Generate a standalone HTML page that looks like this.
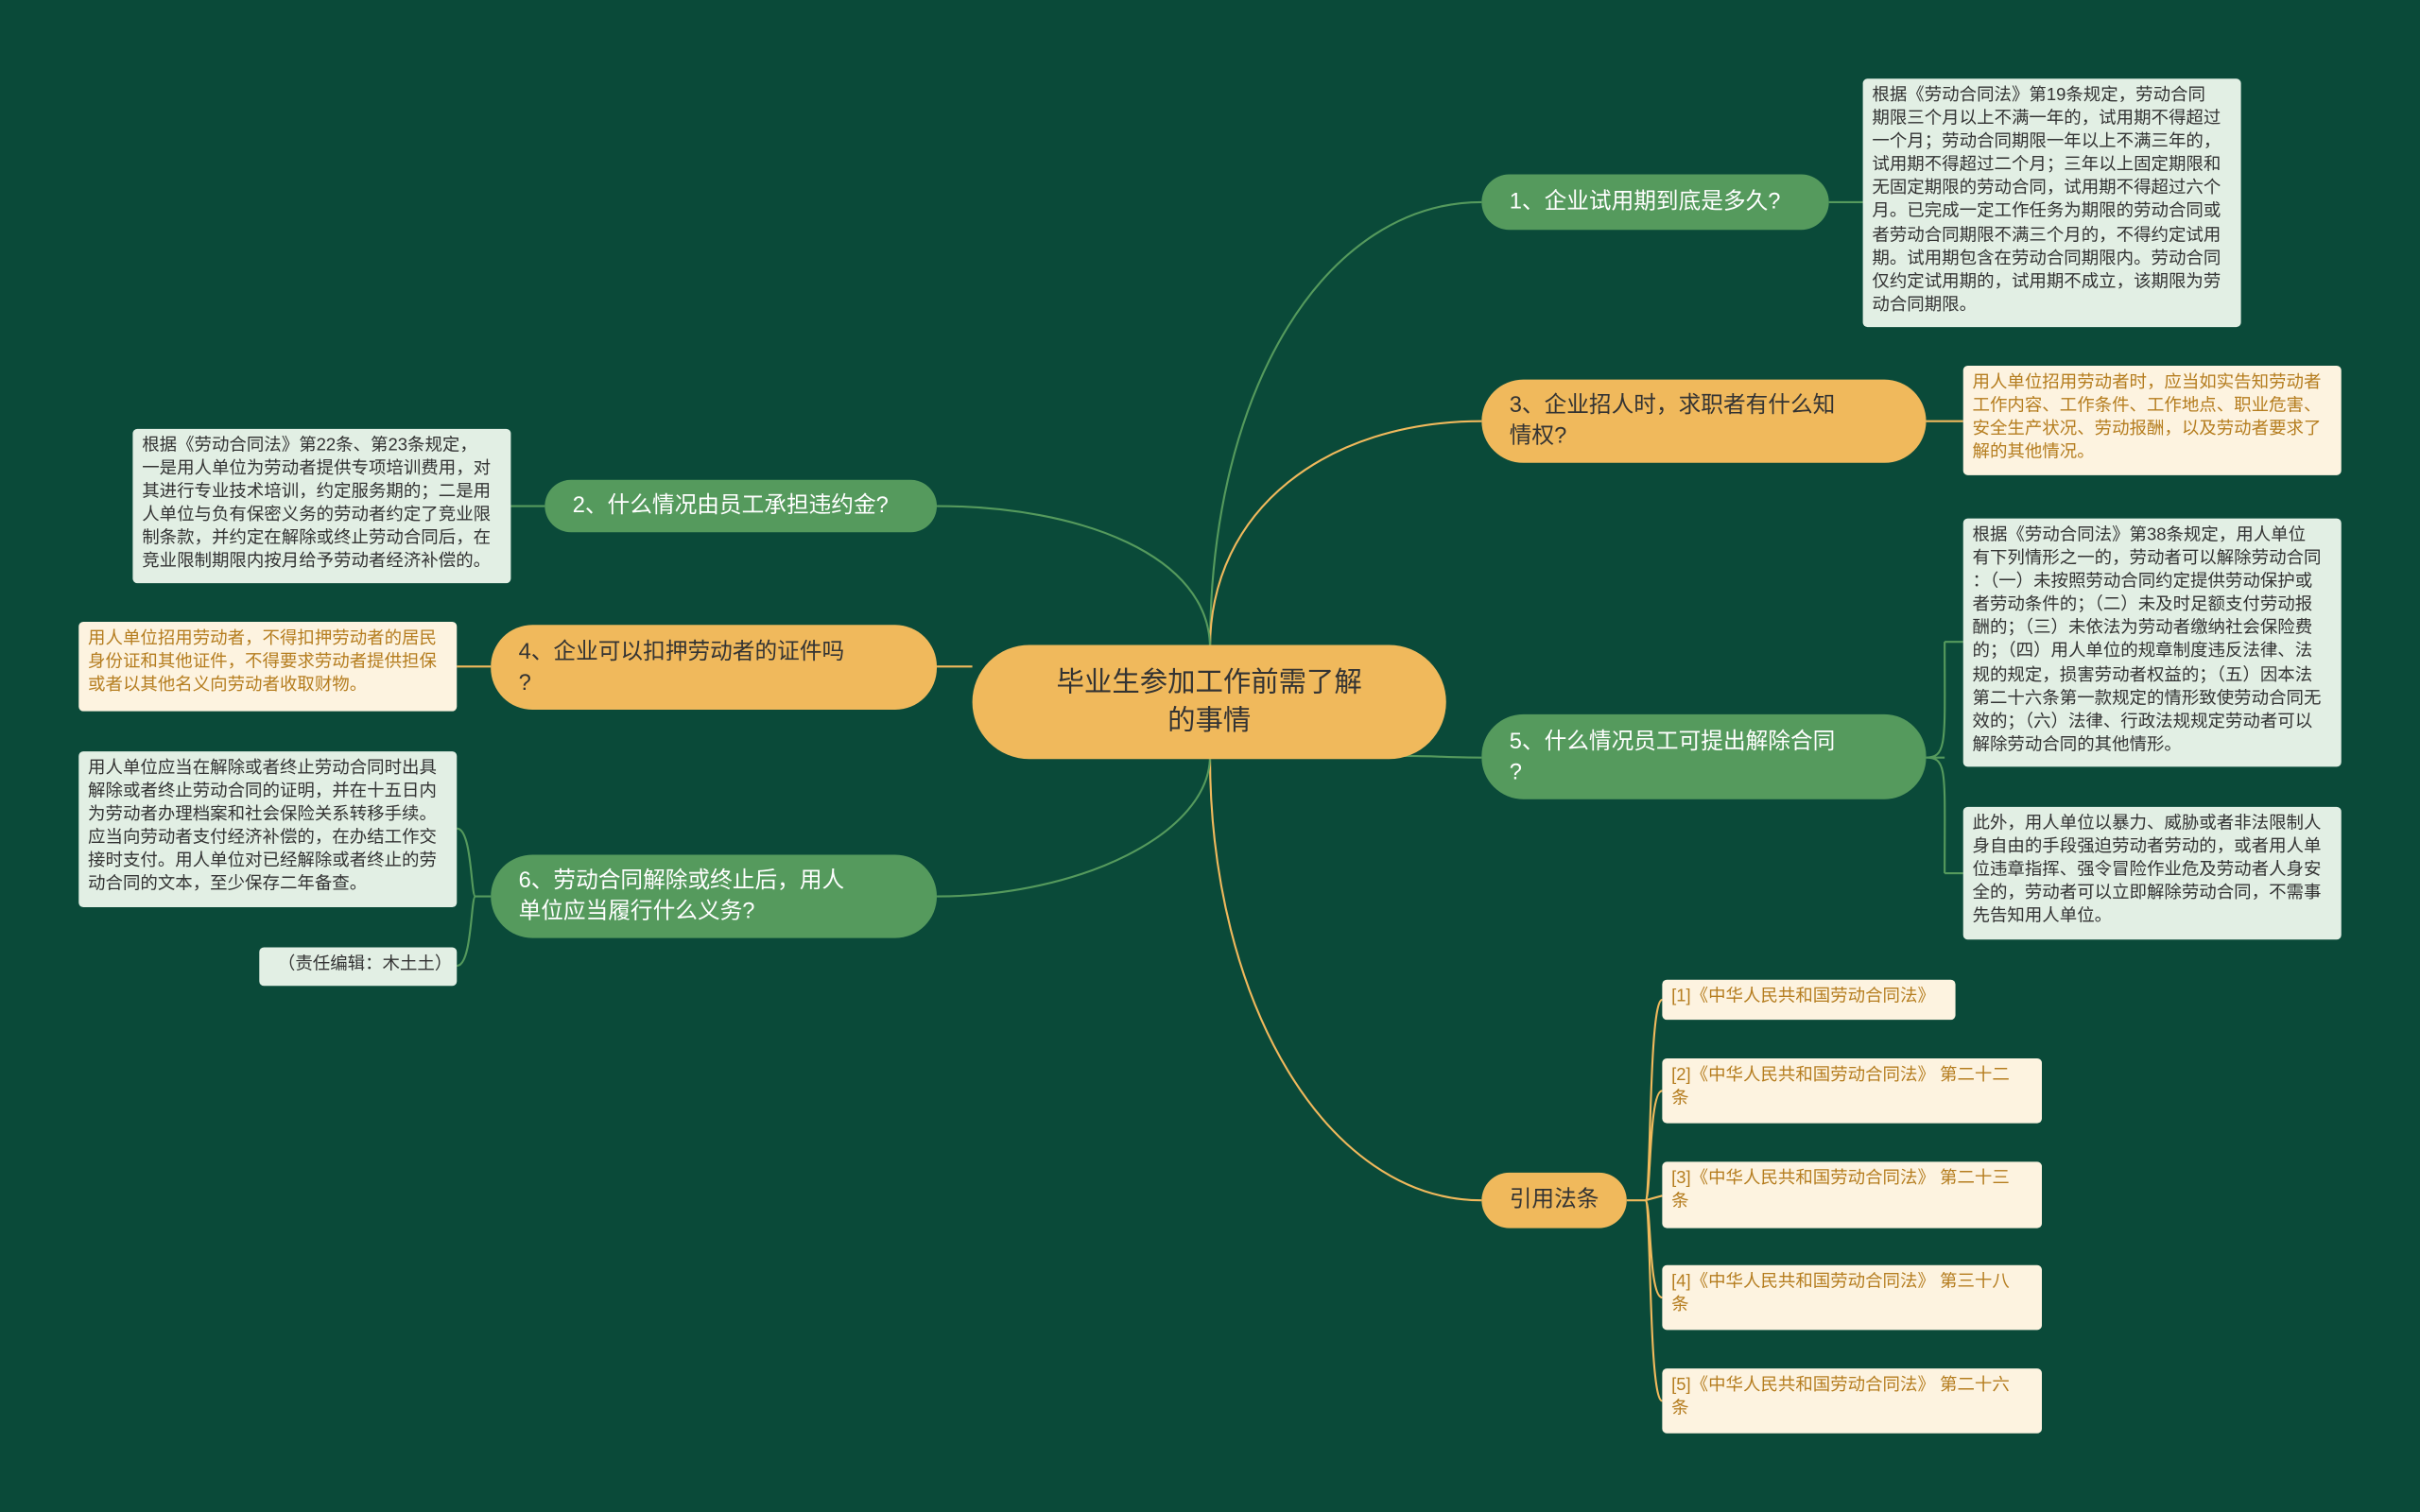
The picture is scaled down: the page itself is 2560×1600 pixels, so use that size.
<!DOCTYPE html>
<html><head><meta charset="utf-8"><style>
html,body{margin:0;padding:0;background:#0a4a39;overflow:hidden}
#s{position:absolute;left:0;top:0;width:1568px;height:980px;transform:scale(1.63265);transform-origin:0 0;font-family:"Liberation Sans","Noto Sans CJK SC",sans-serif}
.n{position:absolute;box-sizing:border-box;display:flex;align-items:center;border-radius:20px;padding:0 18px;font-size:14.5px;line-height:20px}
.g{background:#559a5d;color:#fff}
.o{background:#f0b95c;color:#333}
.l{position:absolute;box-sizing:border-box;border-radius:3px;padding:4px 6px;font-size:11.3px;line-height:15.1px;white-space:nowrap}
.lg{background:#e2efe4;color:#333}
.lo{background:#fdf3e0;color:#b57d1f}
</style></head><body><div id="s">
<svg width="1568" height="980" style="position:absolute;left:0;top:0" fill="none" stroke-width="1.3">
<path d="M784 420 C784 250 860 131 960 131" stroke="#559a5d"/>
<path d="M784 420 C784 330 860 273 960 273" stroke="#f0b95c"/>
<path d="M910 490 C930 490 940 491 960 491" stroke="#559a5d"/>
<path d="M784 490 C784 650 860 778 960 778" stroke="#f0b95c"/>
<path d="M784 420 C784 360 700 328 607 328" stroke="#559a5d"/>
<path d="M630 432 L607 432" stroke="#f0b95c"/>
<path d="M784 490 C784 540 700 581 607 581" stroke="#559a5d"/>
<path d="M1185 131 L1207 131" stroke="#559a5d"/>
<path d="M1248 273 L1272 273" stroke="#f0b95c"/>
<path d="M1248 491 L1260 491 M1260 416 C1260 480 1262 491 1248 491 M1260 566 C1260 500 1262 491 1248 491 M1260 416 L1272 416 M1260 566 L1272 566" stroke="#559a5d"/>
<path d="M353 328 L331 328" stroke="#559a5d"/>
<path d="M318 432 L296 432" stroke="#f0b95c"/>
<path d="M318 581 L308 581 C305 581 306 537 296 537 M308 581 C305 581 306 626 296 626" stroke="#559a5d"/>
<path d="M1054 778 L1066 778 C1070 778 1068 648 1077 648 M1066 778 C1070 778 1068 707 1077 707 M1066 778 L1077 775 M1066 778 C1070 778 1068 841 1077 841 M1066 778 C1070 778 1068 908 1077 908" stroke="#f0b95c"/>
</svg>
<div class="n o" style="left:630px;top:418px;width:307px;height:74px;border-radius:37px;justify-content:center;text-align:center;font-size:18px;line-height:25px">毕业生参加工作前需了解<br>的事情</div>
<div class="n g" style="left:960px;top:113px;width:225px;height:36px">1、企业试用期到底是多久?</div>
<div class="n o" style="left:960px;top:246px;width:288px;height:54px;border-radius:27px">3、企业招人时，求职者有什么知<br>情权?</div>
<div class="n g" style="left:960px;top:463px;width:288px;height:55px;border-radius:27px">5、什么情况员工可提出解除合同<br>?</div>
<div class="n o" style="left:960px;top:760px;width:94px;height:36px">引用法条</div>
<div class="n g" style="left:353px;top:311px;width:254px;height:34px">2、什么情况由员工承担违约金?</div>
<div class="n o" style="left:318px;top:405px;width:289px;height:55px;border-radius:27px">4、企业可以扣押劳动者的证件吗<br>?</div>
<div class="n g" style="left:318px;top:554px;width:289px;height:54px;border-radius:27px">6、劳动合同解除或终止后，用人<br>单位应当履行什么义务?</div>
<div class="l lg" style="left:1207px;top:51px;width:245px;height:161px">根据《劳动合同法》第19条规定，劳动合同<br>期限三个月以上不满一年的，试用期不得超过<br>一个月；劳动合同期限一年以上不满三年的，<br>试用期不得超过二个月；三年以上固定期限和<br>无固定期限的劳动合同，试用期不得超过六个<br>月。已完成一定工作任务为期限的劳动合同或<br>者劳动合同期限不满三个月的，不得约定试用<br>期。试用期包含在劳动合同期限内。劳动合同<br>仅约定试用期的，试用期不成立，该期限为劳<br>动合同期限。</div>
<div class="l lo" style="left:1272px;top:237px;width:245px;height:71px">用人单位招用劳动者时，应当如实告知劳动者<br>工作内容、工作条件、工作地点、职业危害、<br>安全生产状况、劳动报酬，以及劳动者要求了<br>解的其他情况。</div>
<div class="l lg" style="left:1272px;top:336px;width:245px;height:161px">根据《劳动合同法》第38条规定，用人单位<br>有下列情形之一的，劳动者可以解除劳动合同<br>：（一）未按照劳动合同约定提供劳动保护或<br>者劳动条件的；（二）未及时足额支付劳动报<br>酬的；（三）未依法为劳动者缴纳社会保险费<br>的；（四）用人单位的规章制度违反法律、法<br>规的规定，损害劳动者权益的；（五）因本法<br>第二十六条第一款规定的情形致使劳动合同无<br>效的；（六）法律、行政法规规定劳动者可以<br>解除劳动合同的其他情形。</div>
<div class="l lg" style="left:1272px;top:523px;width:245px;height:86px">此外，用人单位以暴力、威胁或者非法限制人<br>身自由的手段强迫劳动者劳动的，或者用人单<br>位违章指挥、强令冒险作业危及劳动者人身安<br>全的，劳动者可以立即解除劳动合同，不需事<br>先告知用人单位。</div>
<div class="l lg" style="left:86px;top:278px;width:245px;height:100px">根据《劳动合同法》第22条、第23条规定，<br>一是用人单位为劳动者提供专项培训费用，对<br>其进行专业技术培训，约定服务期的；二是用<br>人单位与负有保密义务的劳动者约定了竞业限<br>制条款，并约定在解除或终止劳动合同后，在<br>竞业限制期限内按月给予劳动者经济补偿的。</div>
<div class="l lo" style="left:51px;top:403px;width:245px;height:58px">用人单位招用劳动者，不得扣押劳动者的居民<br>身份证和其他证件，不得要求劳动者提供担保<br>或者以其他名义向劳动者收取财物。</div>
<div class="l lg" style="left:51px;top:487px;width:245px;height:101px">用人单位应当在解除或者终止劳动合同时出具<br>解除或者终止劳动合同的证明，并在十五日内<br>为劳动者办理档案和社会保险关系转移手续。<br>应当向劳动者支付经济补偿的，在办结工作交<br>接时支付。用人单位对已经解除或者终止的劳<br>动合同的文本，至少保存二年备查。</div>
<div class="l lg" style="left:168px;top:614px;width:128px;height:25px;padding-left:12px">（责任编辑：木土土）</div>
<div class="l lo" style="left:1077px;top:635px;width:190px;height:26px">[1]《中华人民共和国劳动合同法》</div>
<div class="l lo" style="left:1077px;top:686px;width:246px;height:42px">[2]《中华人民共和国劳动合同法》 第二十二<br>条</div>
<div class="l lo" style="left:1077px;top:753px;width:246px;height:43px">[3]《中华人民共和国劳动合同法》 第二十三<br>条</div>
<div class="l lo" style="left:1077px;top:820px;width:246px;height:42px">[4]《中华人民共和国劳动合同法》 第三十八<br>条</div>
<div class="l lo" style="left:1077px;top:887px;width:246px;height:42px">[5]《中华人民共和国劳动合同法》 第二十六<br>条</div>
</div></body></html>
